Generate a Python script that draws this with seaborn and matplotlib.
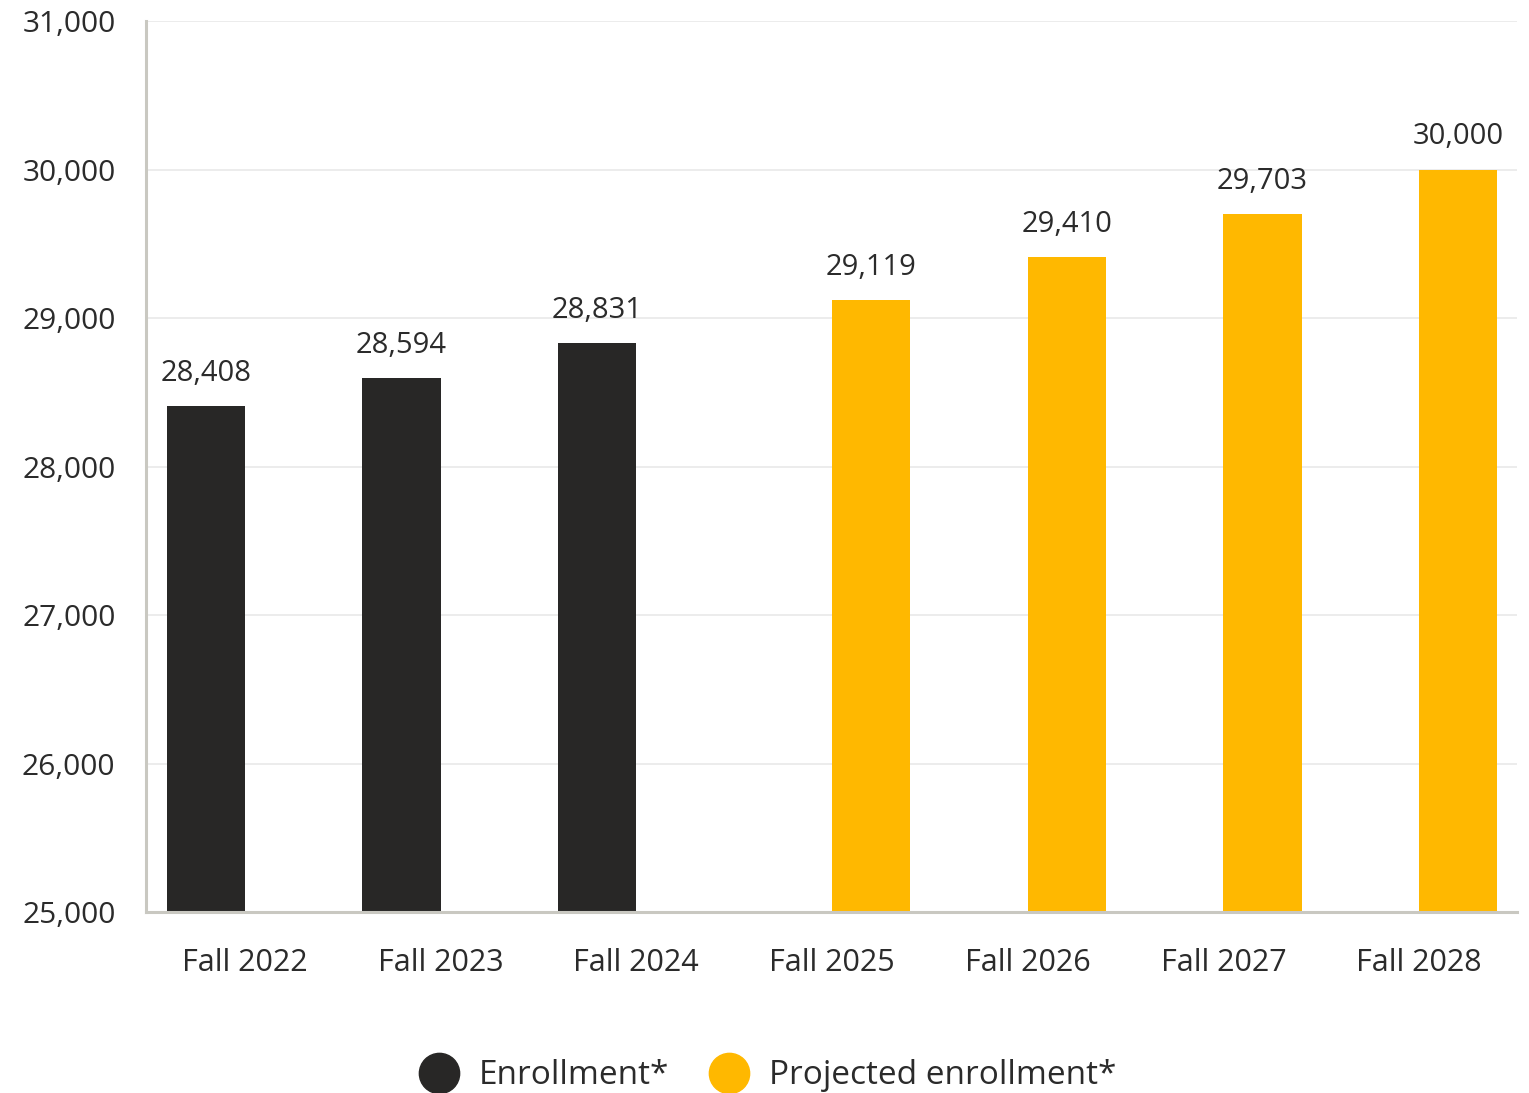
import matplotlib
matplotlib.use("Agg")
import matplotlib.pyplot as plt
from matplotlib.lines import Line2D
import seaborn as sns
import pandas as pd

categories = ["Fall 2022", "Fall 2023", "Fall 2024", "Fall 2025", "Fall 2026", "Fall 2027", "Fall 2028"]
values = [28408, 28594, 28831, 29119, 29410, 29703, 30000]
series = ["Enrollment*", "Enrollment*", "Enrollment*",
          "Projected enrollment*", "Projected enrollment*", "Projected enrollment*", "Projected enrollment*"]
series_order = ["Enrollment*", "Projected enrollment*"]
colors = ["#282726", "#FFB800"]
yticks = [25000, 26000, 27000, 28000, 29000, 30000, 31000]

df = pd.DataFrame({"year": categories, "value": values, "series": series})

sns.set_theme(style="white")
plt.rcParams["font.family"] = ["Open Sans", "DejaVu Sans"]
text_color = "#2b2b2b"

fig = plt.figure(figsize=(15.29, 10.93), dpi=100)
ax = fig.add_axes([146/1529, 1 - 912/1093, (1517 - 146)/1529, (912 - 21)/1093])

sns.barplot(data=df, x="year", y="value", hue="series", order=categories,
            hue_order=series_order, palette=colors, width=0.8, dodge=True,
            saturation=1, ax=ax, legend=False, linewidth=0)

for c in ax.containers:
    ax.bar_label(c, labels=[f"{v:,.0f}" for v in c.datavalues], padding=13,
                 fontsize=21, color=text_color, fontweight="medium")

ax.set_ylim(25000, 31000)
ax.set_xlim(-0.505, 6.5)
ax.set_yticks(yticks)
ax.set_yticklabels([f"{t:,}" for t in yticks])
ax.yaxis.grid(True, color="#ebebeb", linewidth=1.3)
ax.set_axisbelow(True)
ax.tick_params(axis="y", length=0, pad=22, labelsize=21.5, labelcolor=text_color)
ax.tick_params(axis="x", length=0, pad=26, labelsize=22, labelcolor=text_color)
ax.set_xlabel("")
ax.set_ylabel("")
for s in ["top", "right"]:
    ax.spines[s].set_visible(False)
for s in ["left", "bottom"]:
    ax.spines[s].set_color("#c9c8c1")
    ax.spines[s].set_linewidth(2.2)

handles = [Line2D([0], [0], marker="o", linestyle="", markersize=29,
                  markerfacecolor=col, markeredgecolor=col) for col in colors]
fig.legend(handles, series_order, loc="center", bbox_to_anchor=(0.502, 1 - 1076/1093),
           ncol=2, frameon=False, fontsize=24, labelcolor=text_color,
           handletextpad=0.6, columnspacing=1.2, handlelength=1.2)

fig.savefig("out.png", dpi=100)
